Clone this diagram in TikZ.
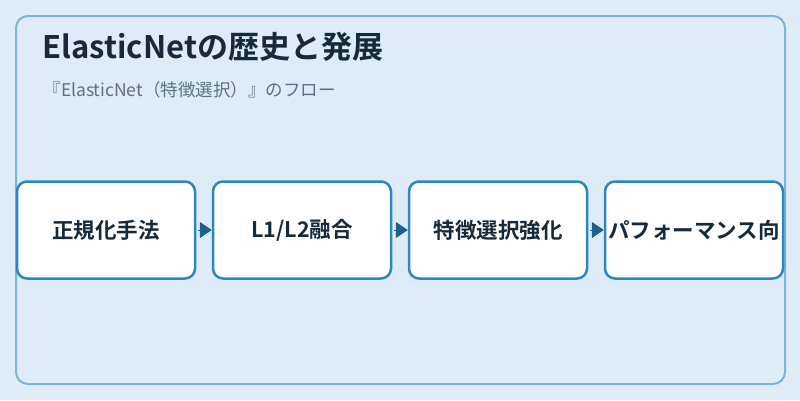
\documentclass[tikz,border=0pt]{standalone}
\usepackage{fontspec}
\setmainfont{Noto Sans CJK JP}[BoldFont={Noto Sans CJK JP Bold}]
\usetikzlibrary{arrows.meta}
\definecolor{bgblue}{HTML}{DDECF7}
\definecolor{framebl}{HTML}{7FB3D5}
\definecolor{boxbl}{HTML}{2E86C1}
\definecolor{arrowbl}{HTML}{1F5F8B}
\definecolor{titlecol}{HTML}{17293A}
\definecolor{subcol}{HTML}{5D7184}
\tikzset{
    stepbox/.style={draw=boxbl, line width=2.5pt, fill=white, rounded corners=10pt,
        minimum width=178pt, minimum height=97pt, inner sep=0pt,
        font=\fontsize{21.5pt}{24pt}\selectfont\bfseries, text=titlecol},
    flowarrow/.style={arrowbl, line width=1pt, shorten <=2pt,
        -{Triangle[length=12pt,width=16pt]}}
}
\begin{document}
\begin{tikzpicture}[x=1pt,y=-1pt]
        % background and frame
        \useasboundingbox[fill=bgblue] (0,0) rectangle (800,400);
        \draw[framebl, line width=2pt, rounded corners=12pt] (16,16) rectangle (785,384);

        % title
        \node[anchor=west, text=titlecol, font=\fontsize{31pt}{34pt}\selectfont\bfseries] (title) at (39,47) {ElasticNetの歴史と発展};
        \node[anchor=west, text=subcol, font=\fontsize{17.5pt}{20pt}\selectfont] (subtitle) at (40,90) {『ElasticNet（特徴選択）』のフロー};

        % flow
        \node[stepbox] (s1) at (106,230) {正規化手法};
        \node[stepbox] (s2) at (302,230) {L1/L2融合};
        \node[stepbox] (s3) at (498,230) {特徴選択強化};
        \node[stepbox] (s4) at (694,230) {パフォーマンス向};
        \draw[flowarrow] (s1.east) -- (s2.west);
        \draw[flowarrow] (s2.east) -- (s3.west);
        \draw[flowarrow] (s3.east) -- (s4.west);
    \end{tikzpicture}
\end{document}
